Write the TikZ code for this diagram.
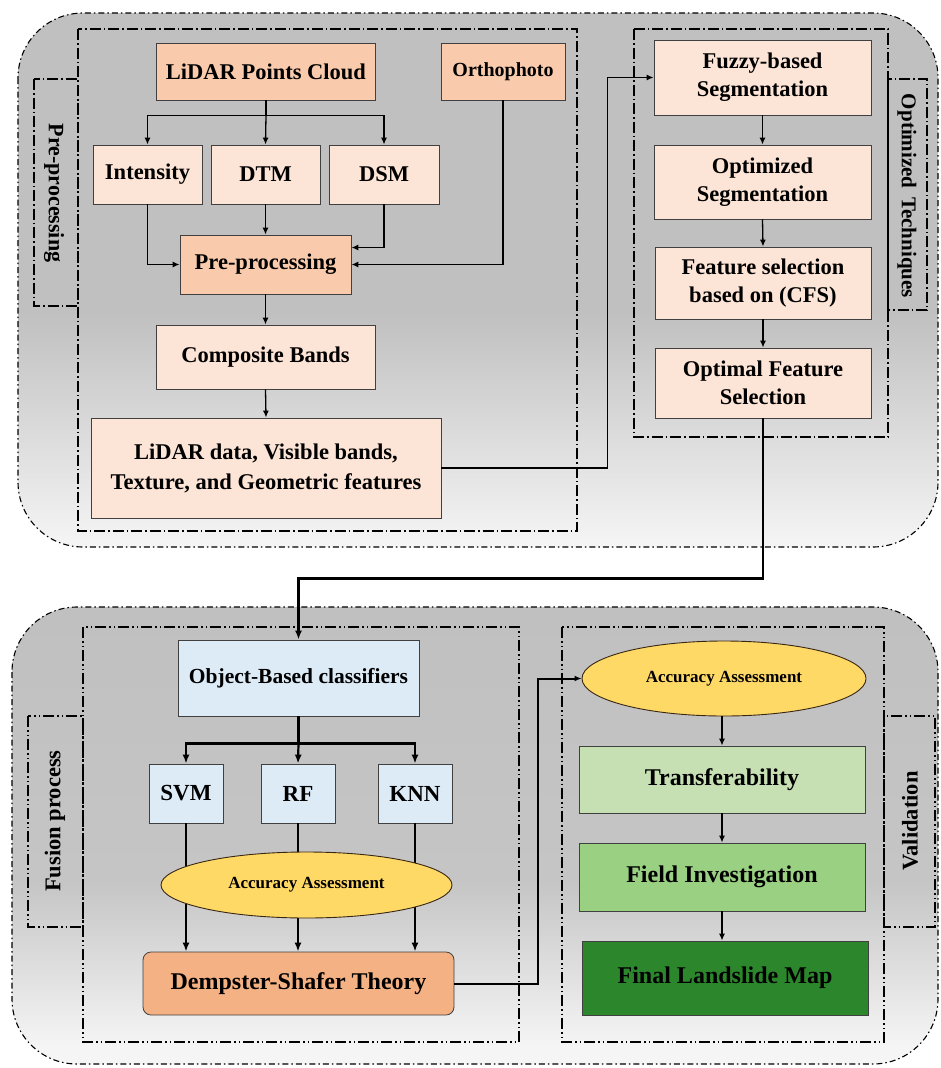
\documentclass[tikz,border=0pt]{standalone}
\usepackage{fontspec}
\setmainfont{Liberation Serif}
\usetikzlibrary{arrows.meta,shapes.geometric}
\definecolor{salmon}{RGB}{249,203,172}
\definecolor{lightsalmon}{RGB}{252,228,214}
\definecolor{dsorange}{RGB}{244,177,131}
\definecolor{lblue}{RGB}{221,235,247}
\definecolor{ayellow}{RGB}{255,217,102}
\definecolor{g1}{RGB}{198,224,180}
\definecolor{g2}{RGB}{153,208,130}
\definecolor{g3}{RGB}{44,135,44}
\definecolor{bgray}{RGB}{192,192,192}
\definecolor{bwhite}{RGB}{245,245,245}
\pgfdeclareverticalshading{topshade}{100bp}{color(0bp)=(bwhite); color(25bp)=(bwhite); color(47bp)=(bgray); color(75bp)=(bgray); color(100bp)=(bgray)}
\pgfdeclareverticalshading{botshade}{100bp}{color(0bp)=(bwhite); color(27bp)=(bwhite); color(45bp)=(bgray!92!white); color(75bp)=(bgray); color(100bp)=(bgray)}
\tikzset{
  box/.style={draw=black!75, line width=0.8pt, align=center, inner sep=2pt,
    font=\bfseries\fontsize{22.5}{28}\selectfont, text=black},
  bigbox/.style={box, font=\bfseries\fontsize{24}{28}\selectfont},
  ell/.style={ellipse, draw=black!70!brown, line width=0.9pt, fill=ayellow, inner sep=0pt,
    font=\bfseries\fontsize{17}{20}\selectfont},
  outerbox/.style={line width=1.1pt, dash pattern=on 6pt off 3pt on 1.5pt off 3pt, rounded corners=65pt},
  innerA/.style={line width=1.1pt, dash pattern=on 11pt off 3pt on 1.5pt off 3pt},
  innerB/.style={line width=1.1pt, dash pattern=on 11pt off 3pt on 1.5pt off 3pt on 1.5pt off 3pt},
  lbl/.style={font=\bfseries\fontsize{22}{24}\selectfont},
  thin/.style={line width=1.3pt, -{Latex[length=7pt,width=6pt]}},
  thinline/.style={line width=1.3pt},
  thick/.style={line width=2.2pt, -{Latex[length=9pt,width=7pt]}},
  thickline/.style={line width=2.2pt},
}
\begin{document}
\begin{tikzpicture}[x=1pt,y=-1pt]
\useasboundingbox (0,0) rectangle (940,1068);
\fill[white] (0,0) rectangle (940,1068);
% outer containers
\path[shading=topshade] [rounded corners=65pt] (18,13) rectangle (938,547);
\draw[outerbox] (18,13) rectangle (938,547);
\path[shading=botshade] [rounded corners=65pt] (12,607) rectangle (938,1064);
\draw[outerbox] (12,607) rectangle (938,1064);
% inner containers top
\draw[innerA] (78,29) rectangle (577,531);
\draw[innerA] (34,79) rectangle (78,306);
\node[lbl, rotate=-90] (lpre) at (54,193) {Pre-processing};
\draw[innerA] (634,29) rectangle (888,437);
\draw[innerA] (888,79) rectangle (927,310);
\node[lbl, rotate=-90, font=\bfseries\fontsize{21}{24}\selectfont] (lopt) at (907,196) {Optimized\, Techniques};
% inner containers bottom
\draw[innerB] (83,627) rectangle (519,1042);
\draw[innerB] (28,716) rectangle (83,927);
\node[lbl, rotate=90, font=\bfseries\fontsize{22.5}{24}\selectfont] (lfus) at (55,821) {Fusion process};
\draw[innerB] (562,627) rectangle (884,1042);
\draw[innerB] (884,716) rectangle (935,927);
\node[lbl, rotate=90, font=\bfseries\fontsize{22.5}{24}\selectfont] (lval) at (910,821) {Validation};
% top nodes
\node[box, fill=salmon, minimum width=219pt, minimum height=57pt] (lidar) at (266,71.5) {LiDAR Points Cloud};
\node[box, fill=salmon, minimum width=124pt, minimum height=57pt, font=\bfseries\fontsize{20}{24}\selectfont] (ortho) at (503,71.5) {Orthophoto};
\node[box, fill=lightsalmon, minimum width=109pt, minimum height=59pt] (int) at (147.5,174.5) {Intensity};
\node[box, fill=lightsalmon, minimum width=109pt, minimum height=59pt] (dtm) at (265.5,174.5) {DTM};
\node[box, fill=lightsalmon, minimum width=110pt, minimum height=59pt] (dsm) at (384,174.5) {DSM};
\node[box, fill=salmon, minimum width=171pt, minimum height=59pt] (pre) at (265.5,264.5) {Pre-processing};
\node[box, fill=lightsalmon, minimum width=219pt, minimum height=64pt] (comp) at (265.5,357) {Composite Bands};
\node[box, fill=lightsalmon, minimum width=350pt, minimum height=100pt, font=\bfseries\fontsize{22.5}{30}\selectfont] (ldata) at (266,468) {LiDAR data, Visible bands,\\Texture, and Geometric features};
\node[box, fill=lightsalmon, minimum width=217pt, minimum height=75pt] (fuzzy) at (762.5,77.5) {Fuzzy-based\\Segmentation};
\node[box, fill=lightsalmon, minimum width=217pt, minimum height=74pt] (optseg) at (762.5,182) {Optimized\\Segmentation};
\node[box, fill=lightsalmon, minimum width=216pt, minimum height=72pt] (fsel) at (763,283) {Feature selection\\based on (CFS)};
\node[box, fill=lightsalmon, minimum width=216pt, minimum height=70pt] (optf) at (763,383) {Optimal Feature\\Selection};
% top connectors
\draw[thinline] (lidar.south) -- ++(0,15) coordinate (sp1);
\draw[thin] (sp1) -| (int.north);
\draw[thin] (sp1) -| (dsm.north);
\draw[thin] (sp1) -- (dtm.north);
\draw[thin] (int.south) |- (pre.west);
\draw[thin] (dtm.south) -- (pre.north);
\draw[thin] (dsm.south) |- ([yshift=17pt]pre.east);
\draw[thin] (ortho.south) |- (pre.east);
\draw[thin] (pre.south) -- (comp.north);
\draw[thin] (comp.south) -- (ldata.north);
\draw[thin] (ldata.east) -- ++(166,0) |- (fuzzy.west);
\draw[thin] (fuzzy.south) -- (optseg.north);
\draw[thin] (optseg.south) -- (fsel.north);
\draw[thin] (fsel.south) -- (optf.north);
% bottom nodes
\node[box, fill=lblue, minimum width=241pt, minimum height=76pt, font=\bfseries\fontsize{21.5}{24}\selectfont] (obj) at (298.5,678) {Object-Based classifiers};
\node[box, fill=lblue, minimum width=74pt, minimum height=59pt, font=\bfseries\fontsize{23}{26}\selectfont] (svm) at (186,793.5) {SVM};
\node[box, fill=lblue, minimum width=74pt, minimum height=59pt, font=\bfseries\fontsize{23}{26}\selectfont] (rf) at (298,793.5) {RF};
\node[box, fill=lblue, minimum width=74pt, minimum height=59pt, font=\bfseries\fontsize{23}{26}\selectfont] (knn) at (415,793.5) {KNN};
\node[bigbox, fill=dsorange, rounded corners=8pt, minimum width=311pt, minimum height=63pt] (ds) at (298.5,983.5) {Dempster-Shafer Theory};
\draw[thick] (optf.south) -- ++(0,160) -| (obj.north);
\draw[thickline] (obj.south) -- ++(0,27) coordinate (sp2);
\draw[thick] (sp2) -| (svm.north);
\draw[thick] (sp2) -| (knn.north);
\draw[thick] (sp2) -- (rf.north);
\draw[thick] (svm.south) -- (svm.south |- ds.north);
\draw[thick] (rf.south) -- (rf.south |- ds.north);
\draw[thick] (knn.south) -- (knn.south |- ds.north);
\node[ell, minimum width=291pt, minimum height=66pt] (acc1) at (306.5,885) {Accuracy Assessment};
\node[ell, minimum width=284pt, minimum height=75pt] (acc2) at (724,678.5) {Accuracy Assessment};
\node[bigbox, fill=g1, minimum width=286pt, minimum height=67pt] (trans) at (722,779.5) {Transferability};
\node[bigbox, fill=g2, minimum width=286pt, minimum height=68pt] (field) at (722,877) {Field Investigation};
\node[bigbox, fill=g3, minimum width=286pt, minimum height=74pt] (final) at (725,978) {Final Landslide Map};
\draw[thin, line width=2pt] (ds.east) -- ++(84,0) |- (acc2.west);
\draw[thin] (acc2.south -| trans.north) -- (trans.north);
\draw[thin] (trans.south) -- (field.north);
\draw[thin] (field.south) -- (field.south |- final.north);
\end{tikzpicture}
\end{document}
